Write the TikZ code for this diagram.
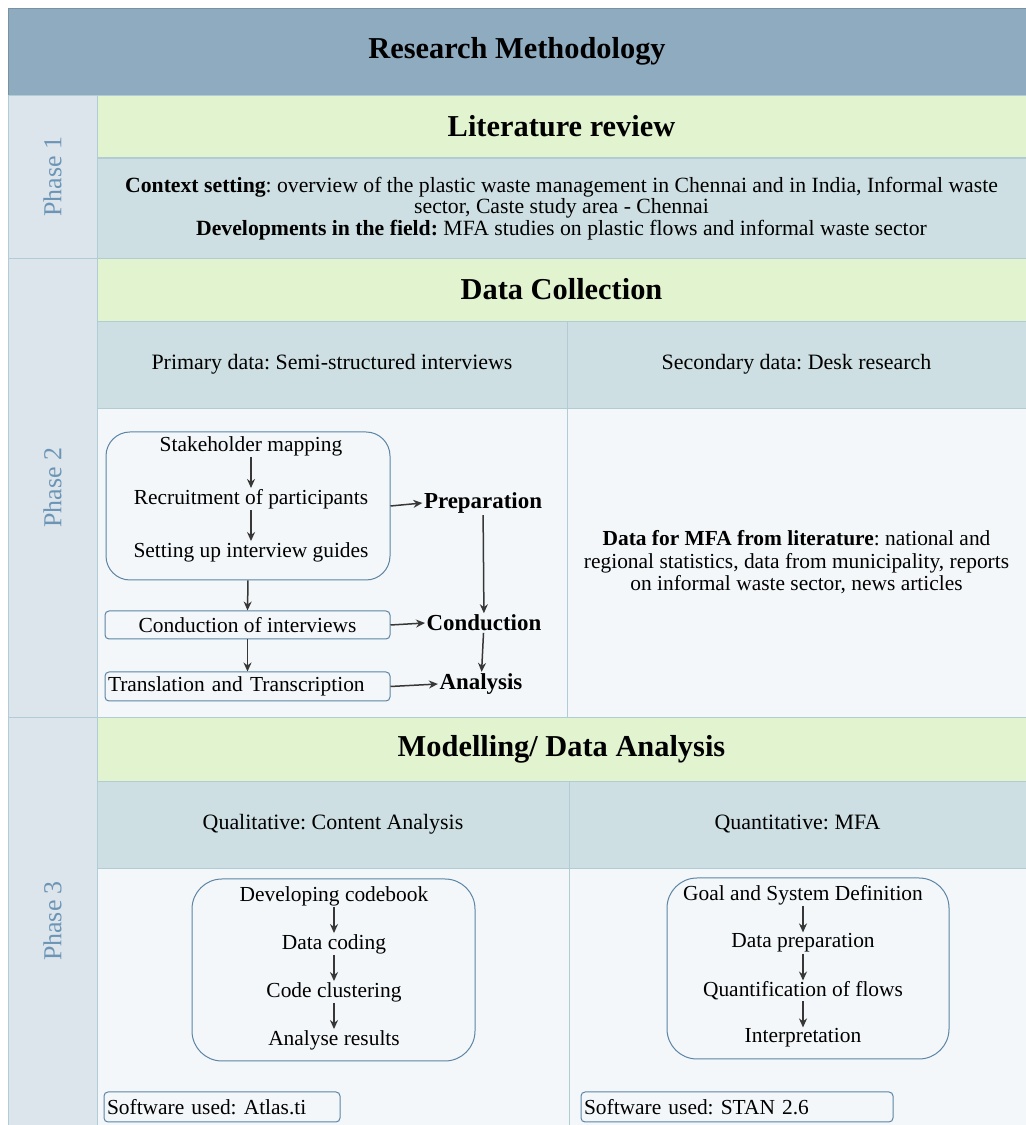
\documentclass[tikz,border=0pt]{standalone}
\usepackage{fontspec}
\setmainfont{Liberation Serif}
\frenchspacing
\usetikzlibrary{arrows.meta}
\definecolor{titlecol}{RGB}{143,171,191}
\definecolor{greencol}{RGB}{226,243,208}
\definecolor{bluecol}{RGB}{205,223,227}
\definecolor{phasecol}{RGB}{220,228,236}
\definecolor{bodycol}{RGB}{243,247,249}
\definecolor{gridcol}{RGB}{178,204,214}
\definecolor{boxcol}{RGB}{92,132,165}
\definecolor{phasetxt}{RGB}{108,149,181}
\definecolor{arrowcol}{RGB}{55,55,55}
\begin{document}
\begin{tikzpicture}[>={Stealth[length=9bp,width=8bp]},line join=bevel,
  cell/.style={draw=gridcol,line width=0.8bp,rectangle,inner sep=0pt},
  head/.style={cell,font=\fontsize{30.5}{35}\selectfont\bfseries},
  subhead/.style={cell,fill=bluecol,minimum height=87bp,font=\fontsize{22}{26}\selectfont},
  phase/.style={cell,fill=phasecol,rotate=90,minimum height=89bp,text=phasetxt,font=\fontsize{26}{30}\selectfont},
  roundbox/.style={draw=boxcol,line width=1bp,fill=bodycol,rectangle},
  smallbox/.style={draw=boxcol,line width=1bp,fill=bodycol,rectangle,rounded corners=4bp,inner sep=3bp,font=\fontsize{21.5}{25}\selectfont},
  steptxt/.style={inner sep=1bp,font=\fontsize{21.5}{25}\selectfont},
  stagetxt/.style={inner sep=1.5bp,font=\fontsize{23}{27}\selectfont\bfseries},
  flow/.style={->,draw=arrowcol,line width=1.5bp},
]
\useasboundingbox (0bp,0bp) rectangle (1026bp,1125bp);
%%
  \node (Head) at (517bp,1073.5bp) [head,draw=titlecol!85!black,fill=titlecol,minimum width=1018bp,minimum height=87bp] {Research Methodology};
  \node (Ph1) at (52.5bp,948.5bp) [phase,minimum width=163bp] {Phase 1};
  \node (Ph2) at (52.5bp,637.5bp) [phase,minimum width=459bp] {Phase 2};
  \node (Ph3) at (52.5bp,204bp) [phase,minimum width=408bp] {Phase 3};
%% phase 1
  \node (LitRev) at (561.5bp,999bp) [head,fill=greencol,minimum width=929bp,minimum height=62bp] {Literature review};
  \node (Context) at (561.5bp,916.5bp) [cell,fill=bluecol,minimum width=929bp,minimum height=101bp,align=center,font=\fontsize{21.8}{21.5}\selectfont] {\textbf{Context setting}: overview of the plastic waste management in Chennai and in India, Informal waste\\sector, Caste study area - Chennai\\\textbf{Developments in the field:} MFA studies on plastic flows and informal waste sector};
%% phase 2
  \node (DataColl) at (561.5bp,835.5bp) [head,fill=greencol,minimum width=929bp,minimum height=63bp] {Data Collection};
  \node (Primary) at (332bp,760.5bp) [subhead,minimum width=470bp] {Primary data: Semi-structured interviews};
  \node (Secondary) at (796.5bp,760.5bp) [subhead,minimum width=459bp] {Secondary data: Desk research};
  \node (PrimBody) at (332bp,562.5bp) [cell,fill=bodycol,minimum width=470bp,minimum height=309bp] {};
  \node (SecBody) at (796.5bp,562.5bp) [cell,fill=bodycol,minimum width=459bp,minimum height=309bp,align=center,font=\fontsize{21.5}{22.5}\selectfont] {\textbf{Data for MFA from literature}: national and\\regional statistics, data from municipality, reports\\on informal waste sector, news articles};
  \node (PrepBox) at (248bp,619bp) [roundbox,rounded corners=24bp,minimum width=284bp,minimum height=148bp] {};
  \node (Stake) at (251bp,679bp) [steptxt] {Stakeholder mapping};
  \node (Recruit) at (251bp,626bp) [steptxt] {Recruitment of participants};
  \node (Guides) at (251bp,573bp) [steptxt] {Setting up interview guides};
  \node (CondBox) at (247.5bp,500bp) [smallbox,minimum width=285bp,minimum height=28bp] {Conduction of interviews};
  \node (TransBox) at (247.5bp,438.5bp) [smallbox,minimum width=285bp,minimum height=29bp,text width=279bp,align=left] {Translation and Transcription};
  \node (Prep) at (483bp,622bp) [stagetxt] {Preparation};
  \node (Cond) at (484bp,502bp) [stagetxt] {Conduction};
  \node (Analysis) at (481bp,441bp) [stagetxt] {Analysis};
  \draw [flow] (Stake) -- (Recruit);
  \draw [flow] (Recruit) -- (Guides);
  \draw [flow] (PrepBox.south) -- (CondBox.north);
  \draw [flow] (CondBox) -- (TransBox);
  \draw [flow] (PrepBox.east) -- (Prep.west);
  \draw [flow] (CondBox.east) -- (Cond.west);
  \draw [flow] (TransBox.east) -- (Analysis.west);
  \draw [flow] (Prep) -- (Cond);
  \draw [flow] (Cond) -- (Analysis);
%% phase 3
  \node (Modelling) at (561.5bp,376bp) [head,fill=greencol,minimum width=929bp,minimum height=64bp] {Modelling/ Data Analysis};
  \node (Qual) at (333bp,300.5bp) [subhead,minimum width=472bp] {Qualitative: Content Analysis};
  \node (Quant) at (797.5bp,300.5bp) [subhead,minimum width=457bp] {Quantitative: MFA};
  \node (QualBody) at (333bp,128.5bp) [cell,fill=bodycol,minimum width=472bp,minimum height=257bp] {};
  \node (QuantBody) at (797.5bp,128.5bp) [cell,fill=bodycol,minimum width=457bp,minimum height=257bp] {};
  \node (QualBox) at (333.5bp,155bp) [roundbox,rounded corners=30bp,minimum width=283bp,minimum height=182bp] {};
  \node (Codebook) at (334bp,229bp) [steptxt] {Developing codebook};
  \node (Coding) at (334bp,181bp) [steptxt] {Data coding};
  \node (Cluster) at (334bp,133bp) [steptxt] {Code clustering};
  \node (Results) at (334bp,85bp) [steptxt] {Analyse results};
  \draw [flow] (Codebook) -- (Coding);
  \draw [flow] (Coding) -- (Cluster);
  \draw [flow] (Cluster) -- (Results);
  \node (QuantBox) at (808bp,156.5bp) [roundbox,rounded corners=30bp,minimum width=282bp,minimum height=181bp] {};
  \node (GoalDef) at (803bp,230bp) [steptxt] {Goal and System Definition};
  \node (DataPrep) at (803bp,182bp) [steptxt] {Data preparation};
  \node (Quantif) at (803bp,134bp) [steptxt] {Quantification of flows};
  \node (Interp) at (803bp,87bp) [steptxt] {Interpretation};
  \draw [flow] (GoalDef) -- (DataPrep);
  \draw [flow] (DataPrep) -- (Quantif);
  \draw [flow] (Quantif) -- (Interp);
  \node (Atlas) at (222bp,18bp) [smallbox,minimum width=236bp,minimum height=30bp,text width=230bp,align=left] {Software used: Atlas.ti};
  \node (Stan) at (737bp,18bp) [smallbox,minimum width=312bp,minimum height=30bp,text width=306bp,align=left] {Software used: STAN 2.6};
%
\end{tikzpicture}
\end{document}
